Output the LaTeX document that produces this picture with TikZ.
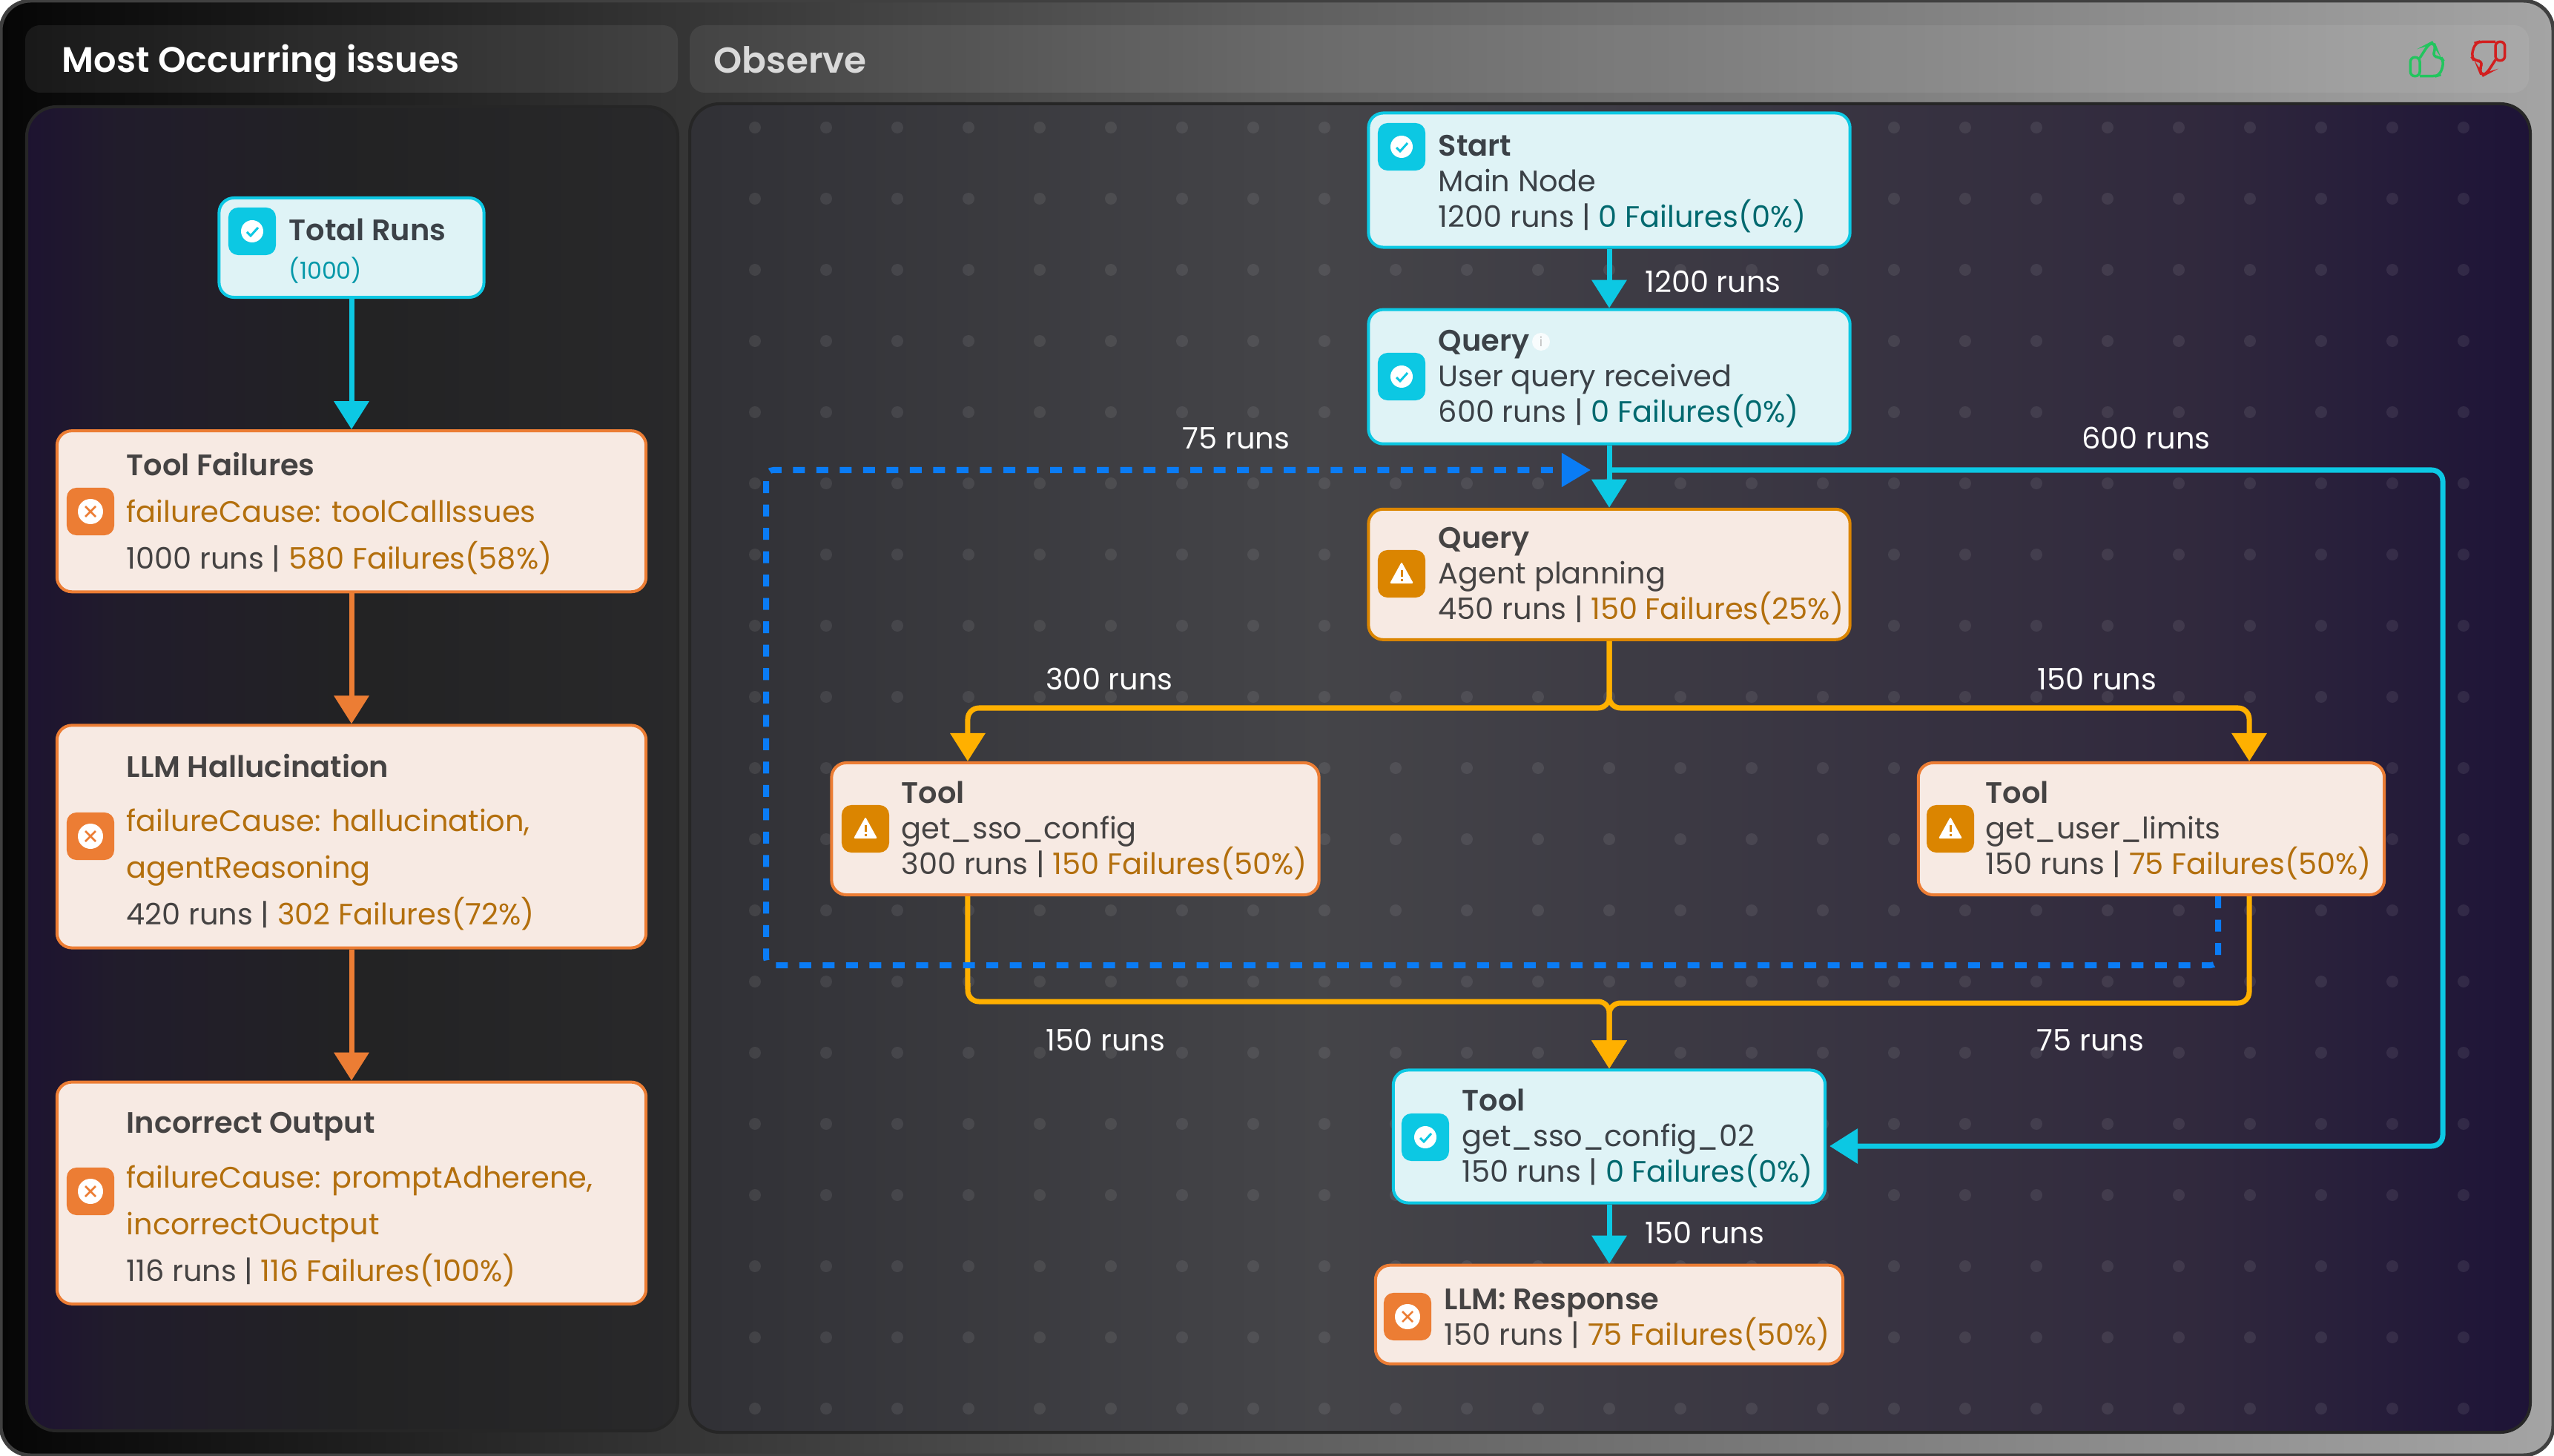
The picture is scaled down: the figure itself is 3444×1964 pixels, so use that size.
\documentclass[tikz,border=0pt]{standalone}
\usepackage{fontspec}
\setmainfont{Poppins}[BoldFont={Poppins SemiBold}]
\usetikzlibrary{arrows.meta,positioning}
\setlength{\lineskiplimit}{-30pt}

\definecolor{framedark}{HTML}{060606}
\definecolor{framemid}{HTML}{5E5E5E}
\definecolor{framelight}{HTML}{A4A4A4}
\definecolor{okline}{HTML}{0CC8E3}
\definecolor{okfill}{HTML}{DFF3F6}
\definecolor{oktext}{HTML}{00696F}
\definecolor{okink}{HTML}{3B4147}
\definecolor{badline}{HTML}{EC7D34}
\definecolor{warnline}{HTML}{DB8500}
\definecolor{badfill}{HTML}{F7EAE3}
\definecolor{badtext}{HTML}{B36F0D}
\definecolor{badink}{HTML}{454343}
\definecolor{amberline}{HTML}{FFB000}
\definecolor{loopblue}{HTML}{0A7CF5}
\definecolor{likegreen}{HTML}{22C55E}
\definecolor{dislikered}{HTML}{D21F1F}

\pgfdeclarehorizontalshading{framefade}{100bp}{color(0bp)=(framedark); color(25bp)=(framedark); color(50bp)=(framemid); color(75bp)=(framelight); color(100bp)=(framelight)}
\pgfdeclarehorizontalshading{issuefade}{100bp}{rgb(0bp)=(0.115,0.075,0.19); rgb(25bp)=(0.115,0.075,0.19); rgb(32bp)=(0.13,0.11,0.17); rgb(50bp)=(0.135,0.135,0.14); rgb(75bp)=(0.16,0.16,0.165); rgb(100bp)=(0.16,0.16,0.165)}
\pgfdeclarehorizontalshading{observefade}{100bp}{rgb(0bp)=(0.19,0.19,0.21); rgb(25bp)=(0.19,0.19,0.21); rgb(42bp)=(0.27,0.27,0.285); rgb(52bp)=(0.235,0.225,0.265); rgb(66bp)=(0.19,0.16,0.24); rgb(75bp)=(0.115,0.075,0.215); rgb(100bp)=(0.115,0.075,0.215)}

\tikzset{
    thumbicon/.pic={
        \draw[pic actions, line width=0.035cm, rounded corners=0.06cm] (-22.7,-2.7) rectangle (-10,22.7);
        \draw[pic actions, line width=0.035cm, rounded corners=0.07cm] (-10,-1.7) -- (1.7,-20) -- (8.3,-23.5) -- (11.7,-15) -- (6.7,-3.3) -- (18.3,-3.3) -- (22.7,3.3) -- (17.3,21) -- (11.7,22.7) -- (-10,22.7);
    }
}

\begin{document}
\begin{tikzpicture}[
    x=0.01cm, y=-0.01cm,
    okcard/.style={draw=okline, fill=okfill, line width=0.04cm, rounded corners=0.2cm},
    badcard/.style={draw=badline, fill=badfill, line width=0.04cm, rounded corners=0.2cm},
    warncard/.style={draw=warnline, fill=badfill, line width=0.04cm, rounded corners=0.2cm},
    iconbox/.style={minimum size=0.64cm, inner sep=0pt, rounded corners=0.13cm},
    okicon/.style={iconbox, fill=okline, path picture={
        \begin{scope}[shift={(path picture bounding box.center)}, sharp corners]
        \fill[white] (0,0) circle (15);
        \draw[okline, line width=0.03cm] (-7,1) -- (-2,6) -- (8,-5);
        \end{scope}}},
    warnicon/.style={iconbox, fill=warnline, path picture={
        \begin{scope}[shift={(path picture bounding box.center)}, sharp corners]
        \fill[white, rounded corners=0.02cm] (0,-16) -- (16,13) -- (-16,13) -- cycle;
        \draw[warnline, line width=0.03cm] (0,-5) -- (0,4) (0,7) -- (0,10);
        \end{scope}}},
    badicon/.style={iconbox, fill=badline, path picture={
        \begin{scope}[shift={(path picture bounding box.center)}, sharp corners]
        \fill[white] (0,0) circle (17);
        \draw[badline, line width=0.025cm] (-7,-7) -- (7,7) (-7,7) -- (7,-7);
        \end{scope}}},
    oklines/.style={anchor=west, align=left, inner sep=0pt, text=okink, font=\fontsize{11.35pt}{13.66pt}\selectfont},
    badlines/.style={oklines, text=badink},
    widelines/.style={badlines, font=\fontsize{11.35pt}{17.9pt}\selectfont},
    runlabel/.style={text=white, inner sep=0pt, font=\fontsize{11.35pt}{13.66pt}\selectfont},
    paneltitle/.style={anchor=west, inner sep=0pt, text=white, font=\fontsize{13.6pt}{16pt}\selectfont\bfseries},
    cyanflow/.style={-{Triangle[length=0.38cm, width=0.46cm]}, okline, line width=0.07cm},
    orangeflow/.style={-{Triangle[length=0.38cm, width=0.46cm]}, badline, line width=0.07cm},
    amberflow/.style={-{Triangle[length=0.38cm, width=0.46cm]}, amberline, line width=0.07cm, rounded corners=0.15cm},
    loopflow/.style={-{Triangle[length=0.39cm, width=0.44cm]}, loopblue, line width=0.08cm, dash pattern=on 0.16cm off 0.155cm, rounded corners=0.1cm},
    griddot/.style={fill=white, fill opacity=0.08}
]
\useasboundingbox (0,0) rectangle (3444,1964);

% frame and panels
\fill[white] (0,0) rectangle (3444,1964);
\shade[shading=framefade, draw=black!75, line width=0.05cm, rounded corners=0.4cm] (1,1) rectangle (3443,1963);
\fill[white, fill opacity=0.07, rounded corners=0.2cm] (34,34) rectangle (914,125);
\fill[white, fill opacity=0.07, rounded corners=0.2cm] (930,34) rectangle (3410,125);
\shade[shading=issuefade, draw=black!70!gray, line width=0.04cm, rounded corners=0.4cm] (36,144) rectangle (914,1930);
\shade[shading=observefade, draw=black!70!gray, line width=0.04cm, rounded corners=0.4cm] (930,140) rectangle (3412,1932);
\foreach \dotx in {1018,1114,...,3322}
    \foreach \doty in {172,268,...,1900}
        \fill[griddot] (\dotx,\doty) circle (8);

\node[paneltitle] (issuestitle) at (83,85) {Most Occurring issues};
\node[paneltitle, text=white!85!black, font=\fontsize{13.8pt}{16pt}\selectfont\bfseries] (observetitle) at (962,81) {Observe};
\pic[draw=likegreen] (like) at (3273,80) {thumbicon};
\pic[draw=dislikered, rotate=180] (dislike) at (3355,79) {thumbicon};

% left column
\node[okcard, minimum width=3.57cm, minimum height=1.34cm] (total) at (474,334) {};
\node[okicon] (totalicon) at (340,312) {};
\node[oklines] (totaltext) at (389,310) {\textbf{Total Runs}};
\node[oklines, text=okline!50!oktext, font=\fontsize{9pt}{11pt}\selectfont] (totalcount) at (389,365) {(1000)};

\node[badcard, minimum width=7.94cm, minimum height=2.17cm, below=1.76cm of total] (toolfail) {};
\node[badicon] (toolfailicon) at (122,690) {};
\node[widelines] (toolfailtext) at (170,693) {\textbf{Tool Failures}\\{\color{badtext}failureCause: toolCallIssues}\\1000 runs | {\color{badtext}580 Failures(58\%)}};

\node[badcard, minimum width=7.94cm, minimum height=3.0cm, below=1.76cm of toolfail] (halluc) {};
\node[badicon] (hallucicon) at (122,1128) {};
\node[widelines] (halluctext) at (170,1136) {\textbf{LLM Hallucination}\\[3pt]{\color{badtext}failureCause: hallucination,}\\{\color{badtext}agentReasoning}\\420 runs | {\color{badtext}302 Failures(72\%)}};

\node[badcard, minimum width=7.94cm, minimum height=2.99cm, below=1.77cm of halluc] (incorrect) {};
\node[badicon] (incorrecticon) at (122,1607) {};
\node[widelines] (incorrecttext) at (170,1618) {\textbf{Incorrect Output}\\[3pt]{\color{badtext}failureCause: promptAdherene,}\\{\color{badtext}incorrectOuctput}\\116 runs | {\color{badtext}116 Failures(100\%)}};

\draw[cyanflow] (total.south) -- (toolfail.north);
\draw[orangeflow] (toolfail.south) -- (halluc.north);
\draw[orangeflow] (halluc.south) -- (incorrect.north);

% right column
\node[okcard, minimum width=6.49cm, minimum height=1.81cm] (start) at (2170,243) {};
\node[okicon] (starticon) at (1890,198) {};
\node[oklines] (starttext) at (1939,248) {\textbf{Start}\\Main Node\\1200 runs | {\color{oktext}0 Failures(0\%)}};

\node[okcard, minimum width=6.49cm, minimum height=1.81cm, below=0.8cm of start] (query) {};
\node[okicon] (queryicon) at (1890,508) {};
\node[oklines] (querytext) at (1939,511) {\textbf{Query}\\User query received\\600 runs | {\color{oktext}0 Failures(0\%)}};
\fill[white, fill opacity=0.8] (2078,461) circle (12);
\node[inner sep=0pt, text=black!25, font=\fontsize{5pt}{6pt}\selectfont] (queryinfo) at (2078,461) {i};

\node[warncard, minimum width=6.49cm, minimum height=1.76cm, below=0.84cm of query] (plan) {};
\node[warnicon] (planicon) at (1890,774) {};
\node[badlines] (plantext) at (1939,777) {\textbf{Query}\\Agent planning\\450 runs | {\color{badtext}150 Failures(25\%)}};

\node[badcard, minimum width=6.57cm, minimum height=1.78cm] (config) at (1450,1118) {};
\node[warnicon] (configicon) at (1167,1118) {};
\node[badlines] (configtext) at (1215,1120) {\textbf{Tool}\\get\_sso\_config\\300 runs | {\color{badtext}150 Failures(50\%)}};

\node[badcard, minimum width=6.28cm, minimum height=1.78cm] (limits) at (2901,1118) {};
\node[warnicon] (limitsicon) at (2630,1118) {};
\node[badlines] (limitstext) at (2677,1120) {\textbf{Tool}\\get\_user\_limits\\150 runs | {\color{badtext}75 Failures(50\%)}};

\node[okcard, minimum width=5.82cm, minimum height=1.79cm] (retry) at (2170,1533) {};
\node[okicon] (retryicon) at (1922,1534) {};
\node[oklines] (retrytext) at (1971,1535) {\textbf{Tool}\\get\_sso\_config\_02\\150 runs | {\color{oktext}0 Failures(0\%)}};

\node[badcard, minimum width=6.3cm, minimum height=1.33cm, below=0.8cm of retry] (response) {};
\node[badicon] (responseicon) at (1898,1776) {};
\node[badlines] (responsetext) at (1947,1780) {\textbf{LLM: Response}\\150 runs | {\color{badtext}75 Failures(50\%)}};

\node[runlabel] (startruns) at (2310,380) {1200 runs};
\node[runlabel] (loopruns) at (1667,591) {75 runs};
\node[runlabel] (skipruns) at (2894,591) {600 runs};
\node[runlabel] (configruns) at (1496,916) {300 runs};
\node[runlabel] (limitsruns) at (2828,916) {150 runs};
\node[runlabel] (configout) at (1491,1403) {150 runs};
\node[runlabel] (limitsout) at (2819,1403) {75 runs};
\node[runlabel] (retryruns) at (2299,1663) {150 runs};

\coordinate (join) at (2170,634);
\coordinate (skipturn) at (3294,634);
\coordinate (splitleft) at (1305,955);
\coordinate (splitright) at (3033,955);
\coordinate (mergeleft) at (1305,1351);
\coordinate (mergeright) at (3033,1353);
\coordinate (loopright) at (2991,1302);
\coordinate (loopleft) at (1033,1302);
\coordinate (looptop) at (1033,634);

\draw[cyanflow] (start.south) -- (query.north);
\draw[cyanflow] (query.south) -- (plan.north);
\draw[cyanflow, rounded corners=0.15cm] (join) -- (skipturn) |- ([xshift=0.04cm, yshift=-0.13cm]retry.east);
\draw[cyanflow] (retry.south) -- (response.north);
\draw[amberflow] (plan.south) |- (splitleft) -- ([xshift=-1.45cm]config.north);
\draw[amberflow] (plan.south) |- (splitright) -- ([xshift=1.32cm]limits.north);
\draw[amberflow] ([xshift=-1.45cm]config.south) -- (mergeleft) -| (retry.north);
\draw[amberflow] ([xshift=1.32cm]limits.south) -- (mergeright) -| (retry.north);
\draw[loopflow] ([xshift=0.9cm]limits.south) -- (loopright) -- (loopleft) -- (looptop) -- ([xshift=-0.25cm]join);
\end{tikzpicture}
\end{document}
